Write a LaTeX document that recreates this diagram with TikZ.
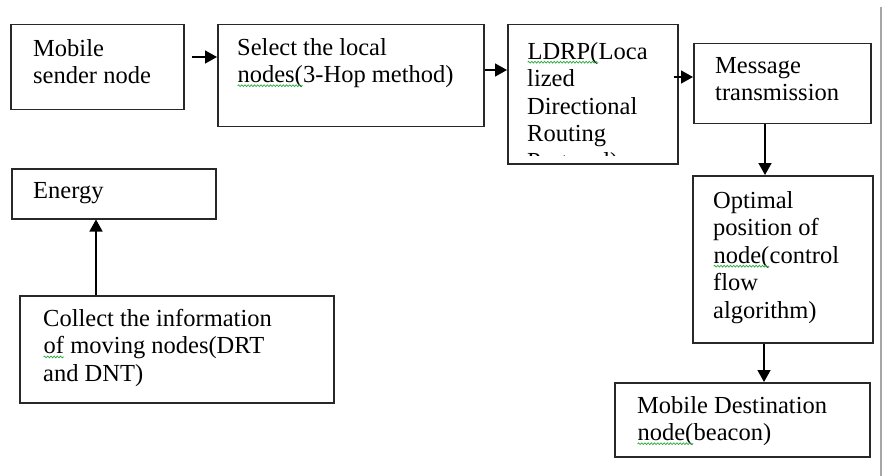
\documentclass[tikz,border=0pt]{standalone}
\usepackage{fontspec}
\setmainfont{Liberation Serif}
\usepackage{tikz}
\usetikzlibrary{positioning,arrows.meta,decorations.pathmorphing}
\definecolor{spellgreen}{RGB}{40,170,60}
\definecolor{boxline}{RGB}{40,40,40}
\newcommand{\spellwave}[1]{\tikz[baseline=(sw.base)]{\node[inner sep=0pt,outer sep=0pt] (sw) {#1};
  \draw[spellgreen,line width=0.7pt,decorate,decoration={snake,amplitude=0.9pt,segment length=3.2pt}] ([yshift=-3pt]sw.base west) -- ([yshift=-3pt]sw.base east);}}

\begin{document}
\begin{tikzpicture}[x=1pt,y=1pt,
  flowbox/.style={draw=boxline,line width=1.5pt,anchor=north west,inner sep=0pt},
  flowtext/.style={align=left,inner sep=0pt,font=\fontsize{24.5}{27.5}\selectfont},
  arr/.style={line width=1.5pt,-{Triangle[length=12pt,width=13pt]}}]
  \useasboundingbox (0,0) rectangle (883,-476);
    \node[flowbox,minimum width=173pt,minimum height=85pt] (sender) at (10,-24) {};
    \node[flowtext,below right=15pt and 23pt of sender.north west] (sendertxt) {Mobile\\sender node};
    \node[flowbox,minimum width=266pt,minimum height=102pt] (select) at (217,-24) {};
    \node[flowtext,below right=14pt and 20pt of select.north west] (selecttxt) {Select the local\\\spellwave{nodes(}3-Hop method)};
    \node[flowbox,minimum width=170pt,minimum height=139pt] (ldrp) at (507,-24) {};
    \begin{scope}
      \clip (507,-24) rectangle (677,-155);
      \node[flowtext,below right=18pt and 20pt of ldrp.north west] (ldrptxt) {\spellwave{LDRP(}Loca\\lized\\Directional\\Routing\\Protocol)};
    \end{scope}
    \node[flowbox,minimum width=177pt,minimum height=80pt] (message) at (693,-43) {};
    \node[flowtext,below right=14pt and 22pt of message.north west] (messagetxt) {Message\\transmission};
    \node[flowbox,minimum width=180pt,minimum height=167pt] (optimal) at (692,-175) {};
    \node[flowtext,below right=16pt and 21pt of optimal.north west] (optimaltxt) {Optimal\\position of\\\spellwave{node(}control\\flow\\algorithm)};
    \node[flowbox,minimum width=255pt,minimum height=74pt] (dest) at (614,-382) {};
    \node[flowtext,below right=14pt and 23pt of dest.north west] (desttxt) {Mobile Destination\\\spellwave{node(}beacon)};
    \node[flowbox,minimum width=204pt,minimum height=50pt] (energy) at (11,-168) {};
    \node[flowtext,below right=14pt and 22pt of energy.north west] (energytxt) {Energy};
    \node[flowbox,minimum width=314pt,minimum height=107pt] (collect) at (19,-295) {};
    \node[flowtext,below right=14pt and 24pt of collect.north west] (collecttxt) {Collect the information\\\spellwave{of} moving nodes(DRT\\and DNT)};
   \draw[arr] ([xshift=7pt,yshift=-33pt]sender.north east) -- ([yshift=-33pt]select.north west);
   \draw[arr] ([yshift=-46pt]select.north east) -- ([yshift=-46pt]ldrp.north west);
   \draw[arr] ([xshift=-5pt,yshift=-53pt]ldrp.north east) -- ([yshift=-34pt]message.north west);
   \draw[arr] ([xshift=72pt]message.south west) -- ([xshift=72pt]message.south west |- optimal.north);
   \draw[arr] ([xshift=72pt]optimal.south west) -- ([xshift=72pt]optimal.south west |- dest.north);
   \draw[arr] ([xshift=77pt]collect.north west) -- ([xshift=77pt]collect.north west |- energy.south);
    % page edge
    \draw[gray!70,line width=1.5pt] (881,-7) -- (881,-476);
\end{tikzpicture}
\end{document}
